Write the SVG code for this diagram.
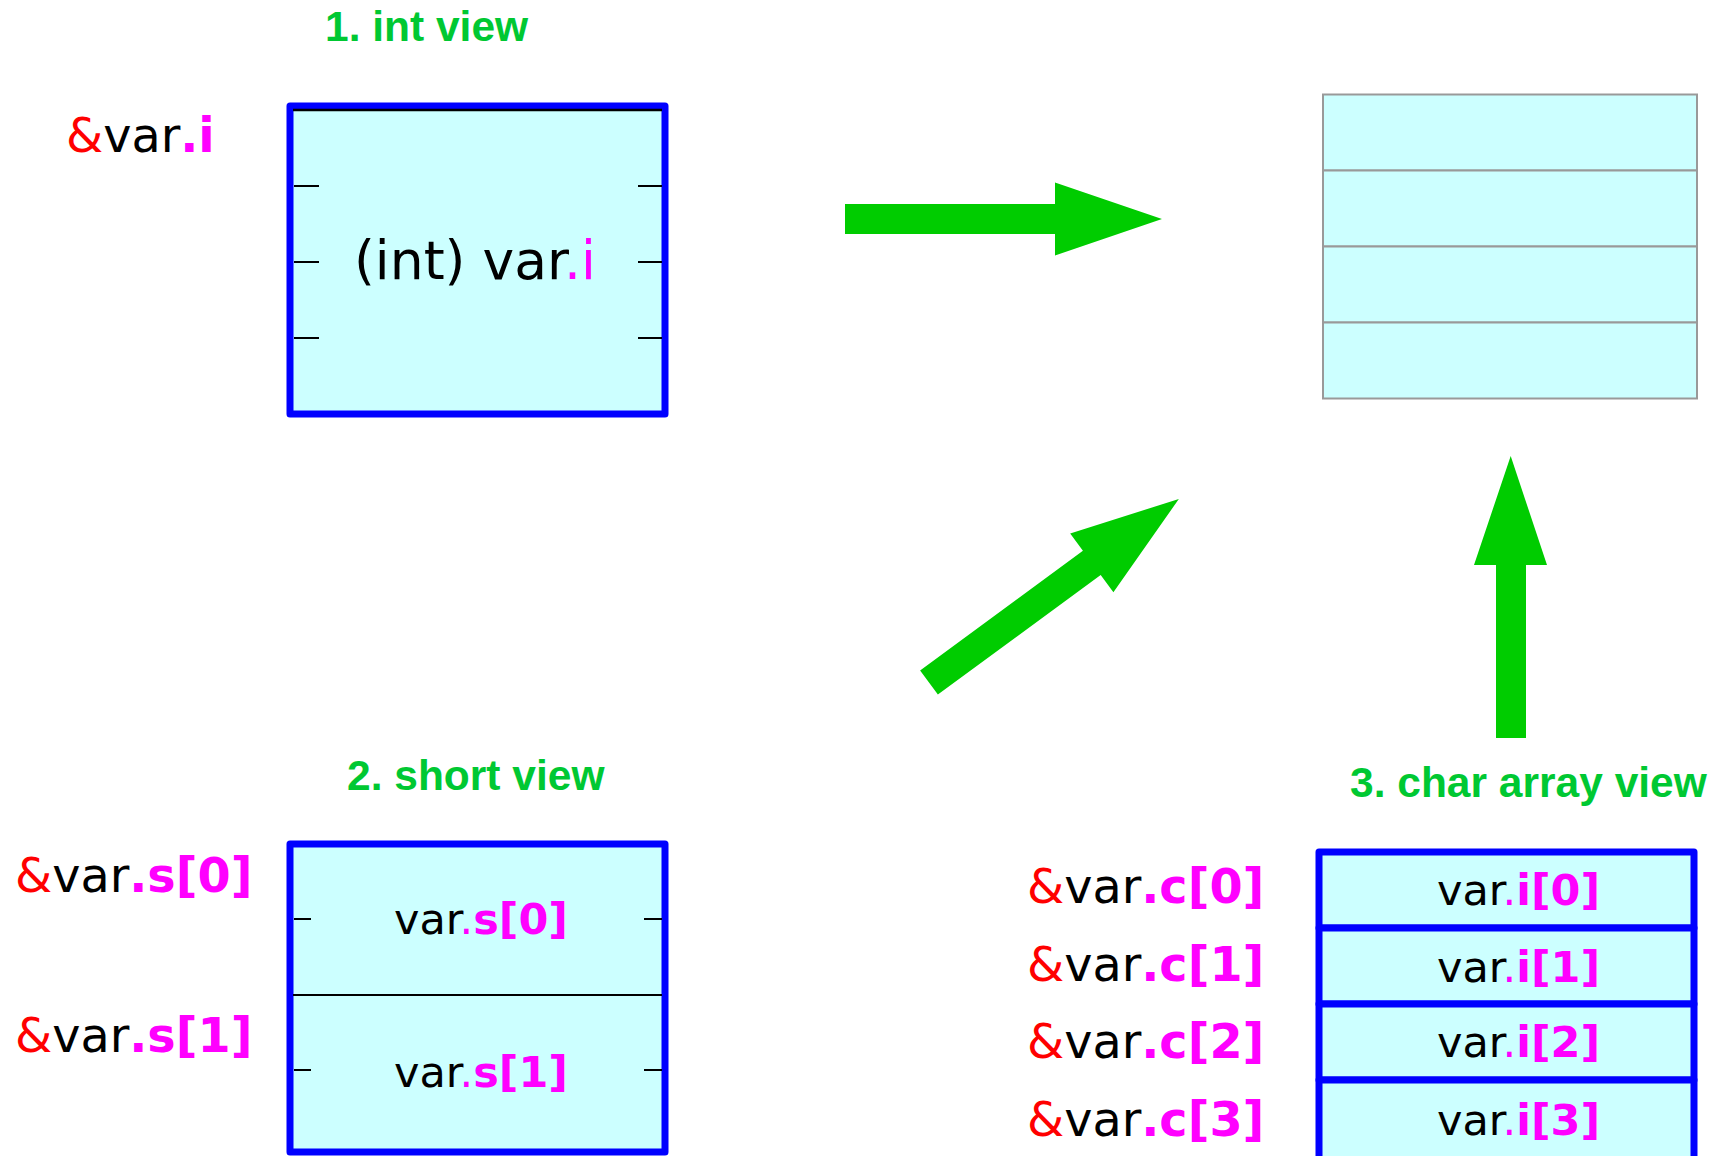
<svg xmlns="http://www.w3.org/2000/svg" width="1721" height="1156" viewBox="0 0 1721 1156">
<style>
.title{font-family:"Liberation Sans",Arial,sans-serif;font-weight:bold;font-size:42.5px;fill:#00c832}
.lbl{font-family:"DejaVu Sans",sans-serif;font-size:47.7px;fill:#000}
.in{font-family:"DejaVu Sans",sans-serif;font-size:43px;fill:#000}
.r{fill:#ff0000}
.m{fill:#ff00ff}
.b{font-weight:bold}
.box{fill:#ccffff;stroke:#0000ff;stroke-width:7;stroke-linejoin:round}
.tick{stroke:#000;stroke-width:2}
.mem{fill:#ccffff;stroke:#999;stroke-width:2}
.arrow{fill:#00cc00}
</style>
<rect width="1721" height="1156" fill="#fff"/>

<g id="int-view">
<text class="title" x="325" y="41">1. int view</text>
<text class="lbl" x="66" y="152"><tspan class="r">&amp;</tspan>var<tspan class="m b">.i</tspan></text>
<rect class="box" x="290" y="106" width="375" height="308"/>
<line x1="293" y1="110" x2="662" y2="110" stroke="#000" stroke-width="2.5"/>
<line class="tick" x1="294" y1="186" x2="319" y2="186"/>
<line class="tick" x1="294" y1="262" x2="319" y2="262"/>
<line class="tick" x1="294" y1="338" x2="319" y2="338"/>
<line class="tick" x1="638" y1="186" x2="662" y2="186"/>
<line class="tick" x1="638" y1="262" x2="662" y2="262"/>
<line class="tick" x1="638" y1="338" x2="662" y2="338"/>
<text class="lbl" style="font-size:53.5px" x="354" y="279">(int) var<tspan class="m">.i</tspan></text>
</g>

<g id="memory">
<rect class="mem" x="1323" y="94.5" width="374" height="76"/>
<rect class="mem" x="1323" y="170.5" width="374" height="76"/>
<rect class="mem" x="1323" y="246.5" width="374" height="76"/>
<rect class="mem" x="1323" y="322.5" width="374" height="76"/>
</g>

<g id="short-view">
<text class="title" x="347" y="790">2. short view</text>
<text class="lbl" x="15" y="892"><tspan class="r">&amp;</tspan>var<tspan class="m b">.s[0]</tspan></text>
<text class="lbl" x="15" y="1052"><tspan class="r">&amp;</tspan>var<tspan class="m b">.s[1]</tspan></text>
<rect class="box" x="290" y="844" width="375" height="308"/>
<line x1="293" y1="995" x2="662" y2="995" stroke="#000" stroke-width="2"/>
<line class="tick" x1="294" y1="919" x2="311" y2="919"/>
<line class="tick" x1="294" y1="1070" x2="311" y2="1070"/>
<line class="tick" x1="644" y1="919" x2="662" y2="919"/>
<line class="tick" x1="644" y1="1070" x2="662" y2="1070"/>
<text class="in" x="394" y="934">var<tspan class="m">.</tspan><tspan class="m b">s[0]</tspan></text>
<text class="in" x="394" y="1087">var<tspan class="m">.</tspan><tspan class="m b">s[1]</tspan></text>
</g>

<g id="char-view">
<text class="title" x="1350" y="797">3. char array view</text>
<text class="lbl" x="1027" y="903"><tspan class="r">&amp;</tspan>var<tspan class="m b">.c[0]</tspan></text>
<text class="lbl" x="1027" y="981"><tspan class="r">&amp;</tspan>var<tspan class="m b">.c[1]</tspan></text>
<text class="lbl" x="1027" y="1058"><tspan class="r">&amp;</tspan>var<tspan class="m b">.c[2]</tspan></text>
<text class="lbl" x="1027" y="1136"><tspan class="r">&amp;</tspan>var<tspan class="m b">.c[3]</tspan></text>
<rect class="box" x="1319" y="852" width="375" height="76"/>
<rect class="box" x="1319" y="928" width="375" height="76"/>
<rect class="box" x="1319" y="1004" width="375" height="76"/>
<rect class="box" x="1319" y="1080" width="375" height="80"/>
<text class="in" x="1437" y="905">var<tspan class="m">.</tspan><tspan class="m b">i[0]</tspan></text>
<text class="in" x="1437" y="982">var<tspan class="m">.</tspan><tspan class="m b">i[1]</tspan></text>
<text class="in" x="1437" y="1057">var<tspan class="m">.</tspan><tspan class="m b">i[2]</tspan></text>
<text class="in" x="1437" y="1135">var<tspan class="m">.</tspan><tspan class="m b">i[3]</tspan></text>
</g>

<g id="connectors">
<polygon class="arrow" points="845,204 1055,204 1055,182.5 1162,219 1055,255.5 1055,234 845,234"/>
<polygon class="arrow" transform="translate(929,682.5) rotate(-36.3)" points="0,-15 202,-15 202,-36.5 310,0 202,36.5 202,15 0,15"/>
<polygon class="arrow" points="1496,738 1496,565 1474,565 1510.7,456 1547,565 1526,565 1526,738"/>
</g>
</svg>
